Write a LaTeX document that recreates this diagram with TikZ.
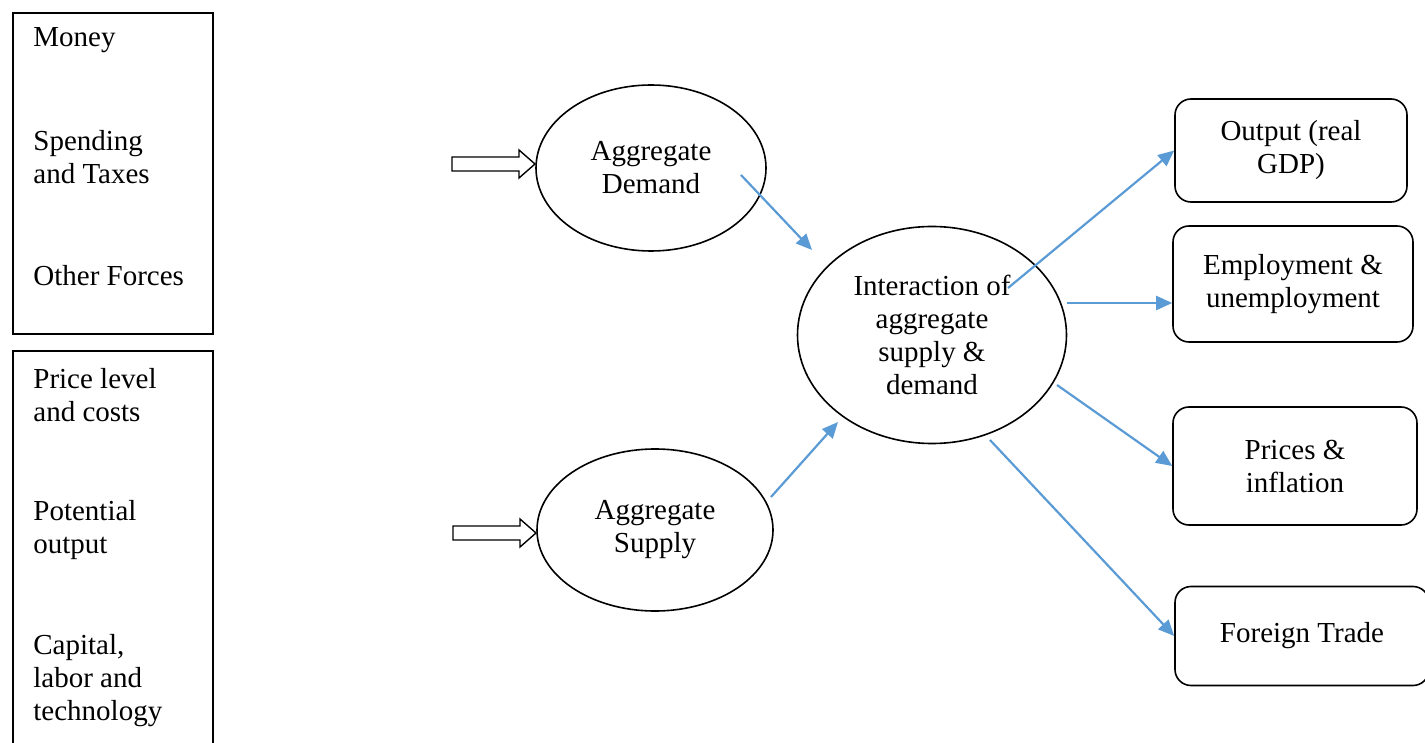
\documentclass[tikz,border=0pt]{standalone}
\usepackage{fontspec}
\setmainfont{Liberation Serif}
\usetikzlibrary{shapes.geometric,arrows.meta,calc}
\definecolor{linkblue}{HTML}{5B9BD5}

\begin{document}
\begin{tikzpicture}
		[x=0.5pt,y=-0.5pt,
		every node/.style={font=\fontsize{14.5}{16.5}\selectfont,inner sep=0pt},
		listbox/.style={draw,line width=0.8pt,minimum width=100pt,anchor=north west},
		listitem/.style={align=left,anchor=west},
		factor/.style={draw,ellipse,line width=0.8pt,align=center},
		result/.style={draw,rounded corners=8pt,line width=0.8pt,align=center},
		link/.style={draw=linkblue,line width=1.1pt,-{Triangle[length=8pt,width=7pt]}},
		hollow/.style={draw,line width=0.7pt,fill=white},
		]
		\useasboundingbox (0,0) rectangle (1425,743);

		% left: the forces behind demand and supply
		\node[listbox,minimum height=160.5pt] (demandforces) at (12,12) {};
		\node[listbox,minimum height=202pt] (supplyforces) at (12,350) {};
		\node[listitem] (money) at (33,40) {Money};
		\node[listitem] (fiscal) at (33,157) {Spending\\and Taxes};
		\node[listitem] (other) at (33,276) {Other Forces};
		\node[listitem] (pricelevel) at (33,395) {Price level\\and costs};
		\node[listitem] (potential) at (33,530) {Potential\\output};
		\node[listitem] (capital) at (33,681) {Capital,\\labor and\\technology};

		% middle
		\node[factor,minimum width=115pt,minimum height=83pt] (ad) at (651,168) {Aggregate\\Demand};
		\node[factor,minimum width=118pt,minimum height=81pt] (as) at (655,530) {Aggregate\\Supply};
		\node[factor,minimum width=134.5pt,minimum height=108.5pt] (inter) at (932,335)
			{Interaction of\\aggregate\\supply \&\\demand};

		% right: the outcomes
		\node[result,minimum width=116pt,minimum height=51.5pt] (output) at (1291,150.5) {Output (real\\GDP)};
		\node[result,minimum width=120pt,minimum height=58pt] (employ) at (1293,284) {Employment \&\\unemployment};
		\node[result,minimum width=122pt,minimum height=59pt] (prices) at (1295,466) {Prices \&\\inflation};
		\node[result,minimum width=127pt,minimum height=49.5pt] (trade) at (1302,636) {Foreign Trade};

		% hollow input arrows
		\draw[hollow] (452,157) -- (519,157) -- (519,150) -- (535,164) -- (519,178) -- (519,171) -- (452,171) -- cycle;
		\draw[hollow] (453,526) -- (520,526) -- (520,519) -- (536,533) -- (520,547) -- (520,540) -- (453,540) -- cycle;

		% blue links
		\draw[link] ($(ad)+(90,7)$) -- ($(inter)+(-120,-85)$);
		\draw[link] ($(as)+(116,-33)$) -- ($(inter)+(-94,87)$);
		\draw[link] ($(inter)+(76,-47)$) -- (output.west);
		\draw[link] ($(inter)+(135,-32)$) -- ($(employ.west)+(0,19)$);
		\draw[link] ($(inter)+(125,50)$) -- (prices.west);
		\draw[link] ($(inter)+(58,105)$) -- (trade.west);
	\end{tikzpicture}
\end{document}
